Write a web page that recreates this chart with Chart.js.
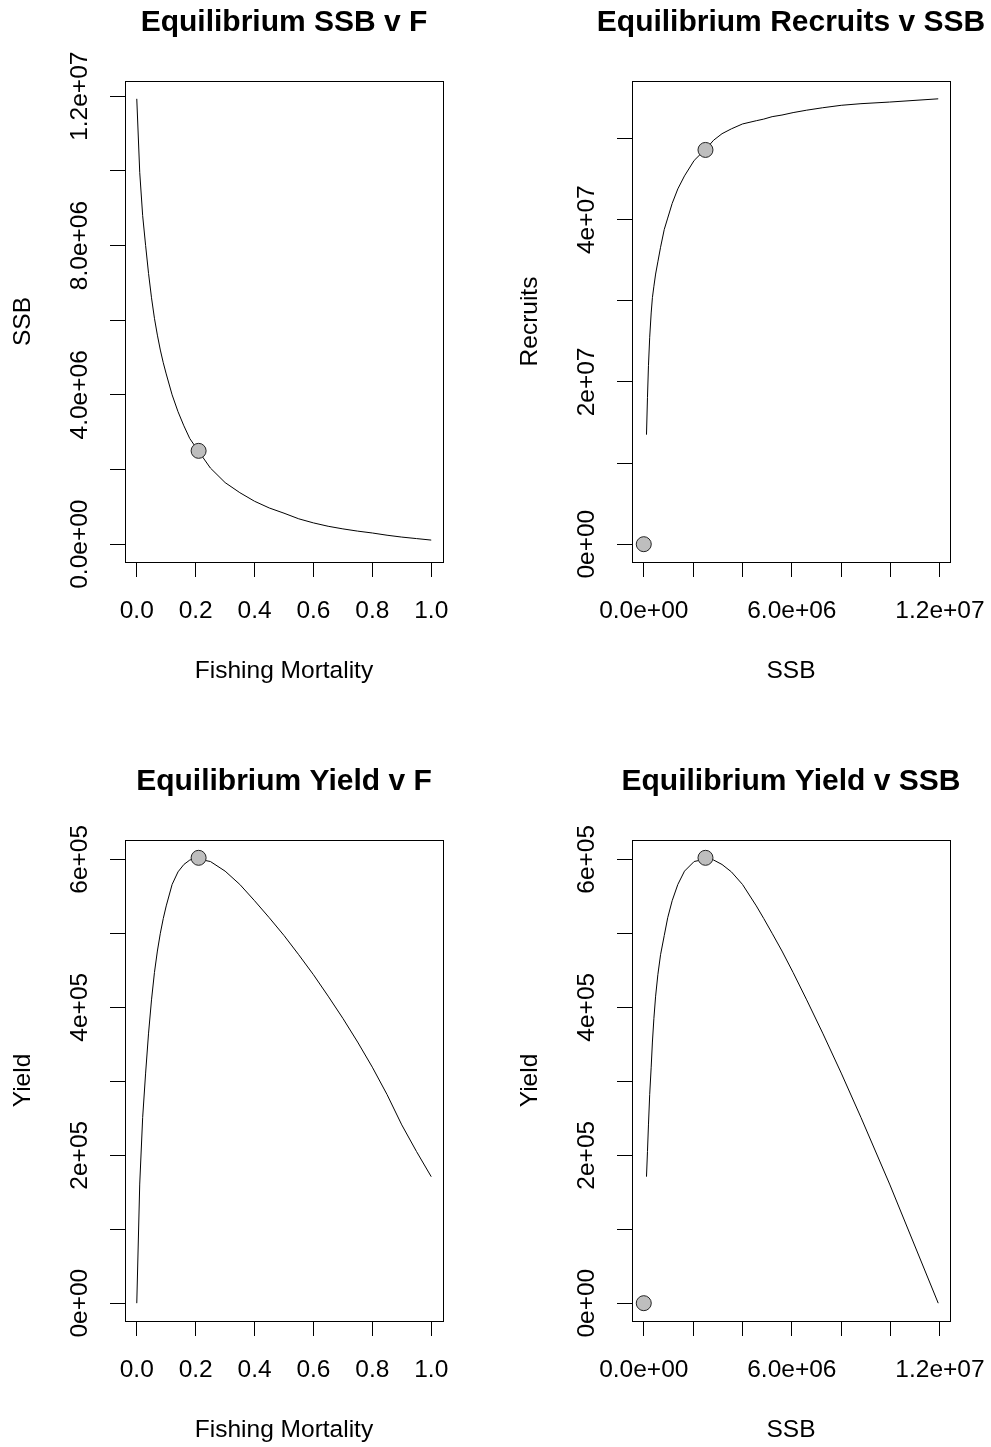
<!DOCTYPE html>
<html>
<head>
<meta charset="utf-8">
<title>Equilibrium curves</title>
<script src="https://cdn.jsdelivr.net/npm/chart.js@4.4.1/dist/chart.umd.min.js"></script>
<style>
  html, body { margin: 0; padding: 0; background: #fff; overflow: hidden; }
  #page { position: relative; width: 991px; height: 1447px; overflow: hidden; background: #fff; }
  #page canvas { position: absolute; }
</style>
</head>
<body>
<div id="page">
  <canvas id="ssbVsF" width="568" height="688" style="left:0px;top:0px"></canvas>
  <canvas id="recruitsVsSsb" width="568" height="688" style="left:507px;top:0px"></canvas>
  <canvas id="yieldVsF" width="568" height="688" style="left:0px;top:759px"></canvas>
  <canvas id="yieldVsSsb" width="568" height="688" style="left:507px;top:759px"></canvas>
</div>
<script>
// Equilibrium curves
const fishingMortality = [0, 0.01, 0.02, 0.03, 0.04, 0.05, 0.06, 0.07, 0.08, 0.09, 0.10, 0.12, 0.14, 0.16, 0.18, 0.20,
                          0.25, 0.30, 0.35, 0.40, 0.45, 0.50, 0.55, 0.60, 0.65, 0.70, 0.75, 0.80, 0.85, 0.90, 0.95, 1.00];
const ssb = [11.93e6, 9.96e6, 8.80e6, 8.00e6, 7.25e6, 6.60e6, 6.05e6, 5.60e6, 5.20e6, 4.86e6, 4.56e6, 4.00e6, 3.55e6, 3.17e6, 2.83e6, 2.60e6,
             2.04e6, 1.65e6, 1.38e6, 1.15e6, 0.97e6, 0.83e6, 0.68e6, 0.57e6, 0.48e6, 0.41e6, 0.35e6, 0.30e6, 0.24e6, 0.19e6, 0.15e6, 0.11e6];
const recruits = [5.49e7, 5.45e7, 5.43e7, 5.41e7, 5.38e7, 5.35e7, 5.32e7, 5.29e7, 5.27e7, 5.24e7, 5.22e7, 5.18e7, 5.12e7, 5.06e7, 4.98e7, 4.90e7,
                  4.73e7, 4.54e7, 4.38e7, 4.20e7, 4.02e7, 3.88e7, 3.66e7, 3.48e7, 3.33e7, 3.18e7, 3.04e7, 2.85e7, 2.55e7, 2.20e7, 1.81e7, 1.35e7];
const yieldValues = [0, 1.61e5, 2.51e5, 3.11e5, 3.65e5, 4.10e5, 4.47e5, 4.76e5, 5.00e5, 5.20e5, 5.37e5, 5.66e5, 5.83e5, 5.93e5, 5.99e5, 6.01e5,
                     5.97e5, 5.84e5, 5.66e5, 5.44e5, 5.21e5, 4.97e5, 4.71e5, 4.44e5, 4.15e5, 3.85e5, 3.53e5, 3.19e5, 2.82e5, 2.41e5, 2.05e5, 1.71e5];

// reference point (MSY) and the origin point shown on the SSB panels
const msyF = [0.21];
const msySSB = [2.50e6];
const msyRecruits = [4.86e7];
const msyYield = [6.02e5];
const originSSB = [0];
const originRecruits = [0];
const originYield = [0];

// tick values and labels (blank = tick without label, as in the original)
const fTicks = [0, 0.2, 0.4, 0.6, 0.8, 1.0];
const fTickLabels = ['0.0', '0.2', '0.4', '0.6', '0.8', '1.0'];
const ssbTicks = [0, 2e6, 4e6, 6e6, 8e6, 10e6, 12e6];
const ssbXTickLabels = ['0.0e+00', '', '', '6.0e+06', '', '', '1.2e+07'];
const ssbYTickLabels = ['0.0e+00', '', '4.0e+06', '', '8.0e+06', '', '1.2e+07'];
const recruitTicks = [0, 1e7, 2e7, 3e7, 4e7, 5e7];
const recruitTickLabels = ['0e+00', '', '2e+07', '', '4e+07', ''];
const yieldTicks = [0, 1e5, 2e5, 3e5, 4e5, 5e5, 6e5];
const yieldTickLabels = ['0e+00', '', '2e+05', '', '4e+05', '', '6e+05'];

const FONT = '"Liberation Sans", Arial, Helvetica, sans-serif';
const LABEL_SIZE = 24.5;
const TITLE_SIZE = 30;
const TICK_LEN = 15;

// R style axis range: data range padded by 4% on each side
function rRange(values) {
    const lo = Math.min(0, ...values);
    const hi = Math.max(...values);
    const pad = (hi - lo) * 0.04;
    return [lo - pad, hi + pad];
}

function zip(xs, ys) {
    return xs.map((x, i) => ({ x: x, y: ys[i] }));
}

const measureCtx = document.createElement('canvas').getContext('2d');
function widestLabel(labels) {
    measureCtx.font = LABEL_SIZE + 'px ' + FONT;
    return Math.max(...labels.map(l => measureCtx.measureText(l).width));
}

const boxPlugin = {
    id: 'plotBox',
    afterDraw(chart) {
        const { ctx, chartArea: a } = chart;
        ctx.save();
        ctx.strokeStyle = '#000';
        ctx.lineWidth = 1;
        ctx.strokeRect(Math.round(a.left) + 0.5, Math.round(a.top) + 0.5,
            Math.round(a.right - a.left), Math.round(a.bottom - a.top));
        ctx.restore();
    }
};

function makeChart(id, cfg) {
    const labelFont = { family: FONT, size: LABEL_SIZE };
    const tickGrid = { display: true, drawOnChartArea: false, drawTicks: true, tickLength: TICK_LEN, color: '#000', lineWidth: 1 };
    // centre the rotated y labels on a fixed column
    const yPad = 125 - TICK_LEN - widestLabel(cfg.yLabels) / 2 - 80.5;

    return new Chart(document.getElementById(id), {
        type: 'scatter',
        data: {
            datasets: [
                {
                    data: cfg.points,
                    showLine: false,
                    pointStyle: 'circle',
                    pointRadius: 7.5,
                    pointHoverRadius: 7.5,
                    pointBackgroundColor: '#bebebe',
                    pointBorderColor: '#222',
                    pointBorderWidth: 1,
                    order: 0
                },
                {
                    data: cfg.line,
                    showLine: true,
                    pointRadius: 0,
                    borderColor: '#000',
                    borderWidth: 1,
                    tension: 0,
                    order: 1
                }
            ]
        },
        options: {
            responsive: false,
            animation: false,
            events: [],
            layout: { padding: 0 },
            plugins: {
                legend: { display: false },
                tooltip: { enabled: false },
                title: {
                    display: true,
                    text: cfg.title,
                    color: '#000',
                    font: { family: FONT, size: TITLE_SIZE, weight: 'bold' },
                    padding: { top: 5, bottom: 40 }
                }
            },
            scales: {
                x: {
                    type: 'linear',
                    position: 'bottom',
                    min: cfg.xRange[0],
                    max: cfg.xRange[1],
                    afterBuildTicks: s => { s.ticks = cfg.xTicks.map(v => ({ value: v })); },
                    afterFit: s => { s.height = 126; },
                    grid: tickGrid,
                    border: { display: false },
                    ticks: {
                        autoSkip: false, minRotation: 0, maxRotation: 0, padding: 19.1,
                        color: '#000', font: labelFont,
                        callback: (v, i) => cfg.xLabels[i]
                    },
                    title: { display: true, text: cfg.xTitle, color: '#000', font: labelFont, padding: { top: 0, bottom: 1.8 } }
                },
                y: {
                    type: 'linear',
                    position: 'left',
                    min: cfg.yRange[0],
                    max: cfg.yRange[1],
                    afterBuildTicks: s => { s.ticks = cfg.yTicks.map(v => ({ value: v })); },
                    afterFit: s => { s.width = 125; },
                    grid: tickGrid,
                    border: { display: false },
                    ticks: {
                        autoSkip: false, minRotation: 90, maxRotation: 90, crossAlign: 'center', padding: yPad,
                        color: '#000', font: labelFont,
                        callback: (v, i) => cfg.yLabels[i]
                    },
                    title: { display: true, text: cfg.yTitle, color: '#000', font: labelFont, padding: { top: 8.5, bottom: 0 } }
                },
                // empty right margin so the title centres over the plot box
                margin: {
                    type: 'linear',
                    position: 'right',
                    display: true,
                    afterFit: s => { s.width = 125; },
                    grid: { display: false },
                    border: { display: false },
                    ticks: { display: false }
                }
            }
        },
        plugins: [boxPlugin]
    });
}

makeChart('ssbVsF', {
    title: 'Equilibrium SSB v F',
    xTitle: 'Fishing Mortality',
    yTitle: 'SSB',
    line: zip(fishingMortality, ssb),
    points: zip(msyF, msySSB),
    xRange: rRange(fishingMortality),
    yRange: rRange(ssb),
    xTicks: fTicks, xLabels: fTickLabels,
    yTicks: ssbTicks, yLabels: ssbYTickLabels
});

makeChart('recruitsVsSsb', {
    title: 'Equilibrium Recruits v SSB',
    xTitle: 'SSB',
    yTitle: 'Recruits',
    line: zip(ssb, recruits),
    points: zip(originSSB.concat(msySSB), originRecruits.concat(msyRecruits)),
    xRange: rRange(ssb),
    yRange: rRange(recruits),
    xTicks: ssbTicks, xLabels: ssbXTickLabels,
    yTicks: recruitTicks, yLabels: recruitTickLabels
});

makeChart('yieldVsF', {
    title: 'Equilibrium Yield v F',
    xTitle: 'Fishing Mortality',
    yTitle: 'Yield',
    line: zip(fishingMortality, yieldValues),
    points: zip(msyF, msyYield),
    xRange: rRange(fishingMortality),
    yRange: rRange(yieldValues.concat(msyYield)),
    xTicks: fTicks, xLabels: fTickLabels,
    yTicks: yieldTicks, yLabels: yieldTickLabels
});

makeChart('yieldVsSsb', {
    title: 'Equilibrium Yield v SSB',
    xTitle: 'SSB',
    yTitle: 'Yield',
    line: zip(ssb, yieldValues),
    points: zip(originSSB.concat(msySSB), originYield.concat(msyYield)),
    xRange: rRange(ssb),
    yRange: rRange(yieldValues.concat(msyYield)),
    xTicks: ssbTicks, xLabels: ssbXTickLabels,
    yTicks: yieldTicks, yLabels: yieldTickLabels
});
</script>
</body>
</html>
